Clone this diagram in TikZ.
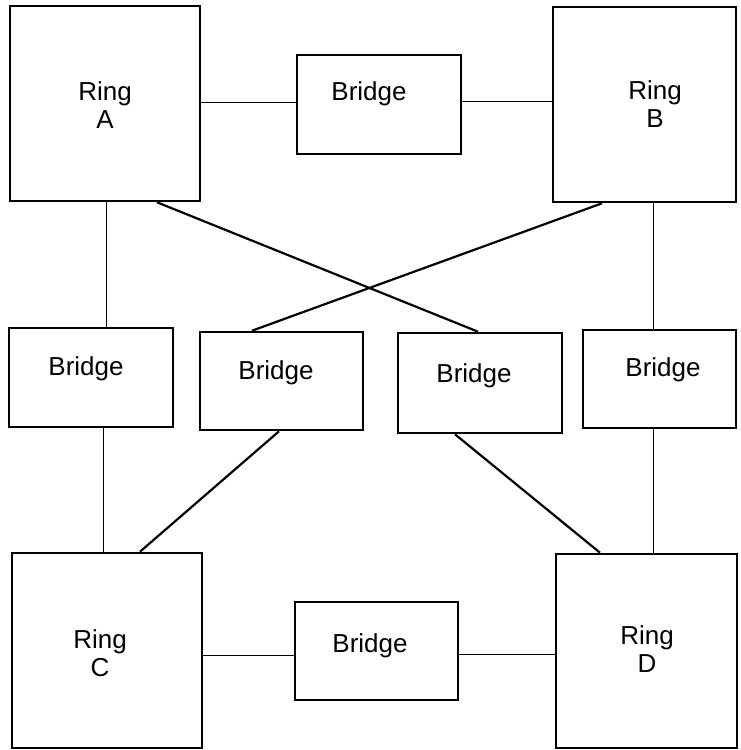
\documentclass[tikz,border=0pt]{standalone}
\usepackage{fontspec}
\setmainfont{Liberation Sans}
\tikzset{
	box/.style={draw, line width=2.6pt, inner sep=0pt},
	boxtext/.style={font=\fontsize{26}{28}\selectfont, align=center, inner sep=0pt},
	link/.style={line width=1pt},
	crosslink/.style={line width=2.2pt}
}
\begin{document}
\begin{tikzpicture}[x=1pt, y=-1pt]
		\useasboundingbox (0,0) rectangle (740,750);
		
		\node [box, minimum width=190pt, minimum height=195pt] (ringA) at (105,103.5) {};
		\node [box, minimum width=164pt, minimum height=99pt] (bridgeAB) at (379,104.5) {};
		\node [box, minimum width=183pt, minimum height=195pt] (ringB) at (644.5,104.5) {};
		
		\node [box, minimum width=164pt, minimum height=99pt] (bridgeL) at (91,377.5) {};
		\node [box, minimum width=163pt, minimum height=98pt] (bridgeX1) at (281.5,381) {};
		\node [box, minimum width=164pt, minimum height=100pt] (bridgeX2) at (480,383) {};
		\node [box, minimum width=153pt, minimum height=98pt] (bridgeR) at (659.5,379) {};
		
		\node [box, minimum width=190pt, minimum height=195pt] (ringC) at (107,650.5) {};
		\node [box, minimum width=163pt, minimum height=98pt] (bridgeCD) at (376.5,651) {};
		\node [box, minimum width=181pt, minimum height=194pt] (ringD) at (646.5,651) {};
		
		\node [boxtext] (textA) at (105,104.7) {Ring\\A};
		\node [boxtext] (textB) at (655,103.7) {Ring\\B};
		\node [boxtext] (textC) at (100,653.2) {Ring\\C};
		\node [boxtext] (textD) at (647,649.2) {Ring\\D};
		
		\node [boxtext, anchor=base] (textAB) at (369,100) {Bridge};
		\node [boxtext, anchor=base] (textL) at (86,375) {Bridge};
		\node [boxtext, anchor=base] (textX1) at (276,379) {Bridge};
		\node [boxtext, anchor=base] (textX2) at (474,382) {Bridge};
		\node [boxtext, anchor=base] (textR) at (663,376) {Bridge};
		\node [boxtext, anchor=base] (textCD) at (370,652) {Bridge};
		
		\draw [link] (ringA.east |- 0,102) -- (bridgeAB.west |- 0,102);
		\draw [link] (bridgeAB.east |- 0,101) -- (ringB.west |- 0,101);
		\draw [link] (ringC.east |- 0,655) -- (bridgeCD.west |- 0,655);
		\draw [link] (bridgeCD.east |- 0,654) -- (ringD.west |- 0,654);
		
		\draw [link] (ringA.south -| 106,0) -- (bridgeL.north -| 106,0);
		\draw [link] (bridgeL.south -| 103,0) -- (ringC.north -| 103,0);
		\draw [link] (ringB.south -| 653,0) -- (bridgeR.north -| 653,0);
		\draw [link] (bridgeR.south -| 653,0) -- (ringD.north -| 653,0);
		
		\draw [crosslink] (ringA.south -| 157,0) -- (bridgeX2.north -| 478,0);
		\draw [crosslink] (ringB.south -| 602,0) -- (bridgeX1.north -| 252,0);
		\draw [crosslink] (bridgeX1.south -| 279,0) -- (ringC.north -| 140,0);
		\draw [crosslink] (bridgeX2.south -| 455,0) -- (ringD.north -| 600,0);
		
\end{tikzpicture}
\end{document}
